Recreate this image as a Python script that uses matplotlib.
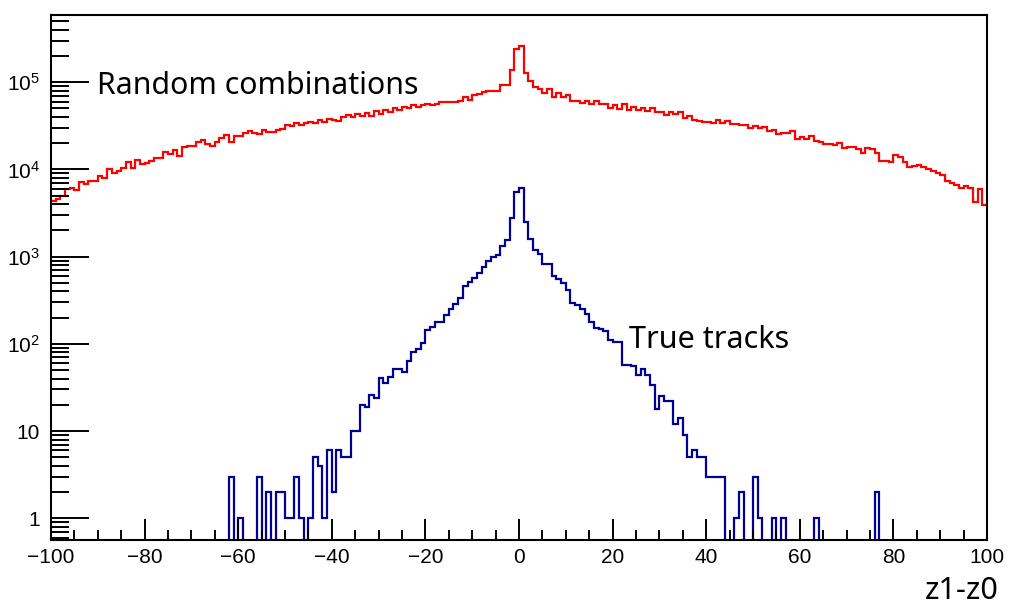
import numpy as np
import matplotlib
matplotlib.use('Agg')
import matplotlib.pyplot as plt
from matplotlib.ticker import FixedLocator, FixedFormatter, MultipleLocator

plt.rcParams['font.family'] = ['Liberation Sans', 'DejaVu Sans']
plt.rcParams['mathtext.fontset'] = 'custom'
plt.rcParams['mathtext.rm'] = 'Liberation Sans'

# bin edges: 200 bins of width 1 from -100 to 100
edges = np.arange(-100, 101, 1)

# random combinations, bins -100 .. 99
random_counts = [
    4300, 4600, 5000, 6000, 6200, 5800, 7100, 6900, 7300, 7400,
    8500, 8000, 10100, 9200, 9600, 10500, 12100, 10500, 12800, 11500,
    11800, 12400, 13400, 13600, 16000, 15000, 16800, 14200, 17900, 18600,
    18400, 20500, 21800, 19500, 18400, 20800, 23000, 25000, 20500, 24000,
    24500, 26400, 27500, 26500, 25800, 28400, 27000, 27200, 28400, 28800,
    32400, 31700, 34000, 32400, 34500, 35400, 34000, 36800, 35400, 37600,
    36800, 36000, 39600, 41900, 40400, 43500, 41400, 44600, 41400, 46400,
    43500, 48000, 45000, 50000, 48000, 52000, 50000, 54800, 52000, 54800,
    57000, 54800, 57000, 59600, 59600, 59600, 59600, 61300, 68400, 63000,
    71500, 73400, 78000, 79400, 80000, 80000, 93000, 93000, 138000, 240000,
    262000, 129000, 103000, 87700, 83300, 75800, 83300, 67300, 74700, 68400,
    71500, 61000, 61000, 58300, 61300, 57000, 61300, 55900, 55900, 50000,
    54800, 49000, 56500, 48000, 51700, 48000, 50000, 46400, 50000, 45000,
    45000, 41900, 45000, 43500, 45000, 39400, 41400, 36800, 36400, 35000,
    35000, 34000, 36800, 34000, 36400, 33400, 33400, 32400, 32400, 29700,
    31700, 29700, 30500, 27800, 28400, 25300, 26000, 26000, 27500, 22200,
    23300, 22200, 23900, 21400, 20800, 19600, 19400, 19000, 20300, 17800,
    18200, 18200, 17000, 15300, 17600, 17000, 15300, 12400, 12400, 12300,
    14500, 13800, 12300, 10600, 10900, 11100, 10800, 10000, 9500, 9150,
    8650, 7450, 7000, 6600, 6100, 6500, 6100, 4270, 5900, 3900,
]

# true tracks, bins -62 .. 76 (all other bins empty)
true_first_bin = -62
true_counts = [
    3, 0, 1, 0, 0, 0, 3, 0, 2, 0,
    2, 2, 1, 1, 3, 1, 0, 1, 5, 4,
    1, 6, 2, 6, 5, 5, 10, 10, 20, 19,
    26, 24, 41, 36, 42, 52, 52, 48, 64, 80,
    87, 102, 144, 157, 180, 180, 216, 253, 287, 333,
    461, 508, 575, 645, 767, 885, 1000, 1050, 1320, 1540,
    2800, 5570, 6200, 2520, 1590, 1195, 1070, 818, 818, 600,
    550, 500, 420, 295, 278, 251, 220, 178, 153, 150,
    140, 112, 106, 105, 58, 58, 56, 44, 52, 44,
    34, 18, 25, 22, 22, 12, 14, 9, 5, 6,
    5, 5, 3, 3, 3, 3, 0, 0, 1, 2,
    0, 0, 3, 1, 0, 0, 1, 0, 1, 0,
    0, 0, 0, 0, 0, 1, 0, 0, 0, 0,
    0, 0, 0, 0, 0, 0, 0, 0, 2,
]

true_full = np.zeros(len(edges) - 1)
i0 = true_first_bin - edges[0]
true_full[i0:i0 + len(true_counts)] = true_counts
# empty bins drawn down past the axis floor, like ROOT does on log scale
true_full = np.where(true_full > 0, true_full, 1e-3)

fig = plt.figure(figsize=(10.09, 6.08), dpi=100)
ax = fig.add_axes([51 / 1009, 1 - 540 / 608, 936 / 1009, 525 / 608])

ax.stairs(random_counts, edges, color='#ff0000', linewidth=1.6, baseline=None)
ax.stairs(true_full, edges, color='#000099', linewidth=1.6, baseline=None)

ax.set_yscale('log')
ax.set_xlim(-100, 100)
ax.set_ylim(0.564, 5.9e5)

ax.xaxis.set_major_locator(MultipleLocator(20))
ax.xaxis.set_minor_locator(MultipleLocator(5))
ax.tick_params(axis='x', which='major', direction='in', length=15, width=1.4,
               labelsize=15, pad=6, top=False)
ax.tick_params(axis='x', which='minor', direction='in', length=7.5, width=1.4, top=False)

yt = [1, 10, 100, 1e3, 1e4, 1e5]
ylabels = ['1', '10', r'$\mathregular{10^{2}}$', r'$\mathregular{10^{3}}$',
           r'$\mathregular{10^{4}}$', r'$\mathregular{10^{5}}$']
ax.yaxis.set_major_locator(FixedLocator(yt))
ax.yaxis.set_major_formatter(FixedFormatter(ylabels))
minor = [m * 10 ** d for d in range(-1, 6) for m in range(2, 10)]
ax.yaxis.set_minor_locator(FixedLocator(minor))
ax.yaxis.set_minor_formatter(FixedFormatter([''] * len(minor)))
ax.tick_params(axis='y', which='major', direction='in', length=27, width=1.4,
               labelsize=15, pad=8, right=False)
ax.tick_params(axis='y', which='minor', direction='in', length=13, width=1.4, right=False)

for s in ax.spines.values():
    s.set_linewidth(1.5)

ax.text(0.049, 0.865, 'Random combinations', transform=ax.transAxes,
        fontsize=21.8, family=['Noto Sans', 'DejaVu Sans'], va='center')
ax.text(0.618, 0.38, 'True tracks', transform=ax.transAxes,
        fontsize=22, family=['Noto Sans', 'DejaVu Sans'], va='center')
fig.text(0.99, 1 - 591 / 608, 'z1-z0', fontsize=22, ha='right', va='center',
         family=['Noto Sans', 'DejaVu Sans'])

fig.savefig('out.png', dpi=100)
